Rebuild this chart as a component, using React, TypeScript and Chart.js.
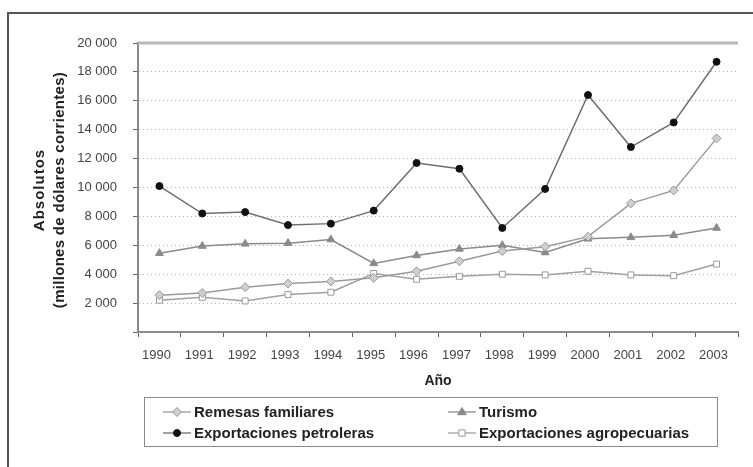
import React, { useEffect, useRef } from 'react';
import { Chart, registerables } from 'chart.js';

Chart.register(...registerables);

const years = ['1990', '1991', '1992', '1993', '1994', '1995', '1996', '1997', '1998', '1999', '2000', '2001', '2002', '2003'];
const remesas = [2550, 2700, 3100, 3350, 3500, 3750, 4200, 4900, 5600, 5900, 6600, 8900, 9800, 13400];
const turismo = [5450, 5950, 6100, 6150, 6400, 4750, 5300, 5750, 6000, 5500, 6450, 6550, 6700, 7200];
const petroleras = [10100, 8200, 8300, 7400, 7500, 8400, 11700, 11300, 7200, 9900, 16400, 12800, 14500, 18700];
const agro = [2200, 2400, 2150, 2600, 2750, 4050, 3650, 3850, 4000, 3950, 4200, 3950, 3900, 4700];

const yMin = 0;
const yMax = 20000;
const yStep = 2000;

const seriesNames = ['Remesas familiares', 'Turismo', 'Exportaciones petroleras', 'Exportaciones agropecuarias'];
const yTitle = ['Absolutos', '(millones de dólares corrientes)'];
const xTitle = 'Año';

const W = 753;
const H = 467;
const TICK_FONT = "'Liberation Sans', Arial, sans-serif";
const BOLD_FONT = "'Liberation Sans', Arial, sans-serif";

const styles = [
  { line: '#9a9a9a', style: 'rectRot', r: 4.5, bg: '#cfcfcf', bd: '#9a9a9a' },
  { line: '#8a8a8a', style: 'triangle', r: 4.5, bg: '#8a8a8a', bd: '#8a8a8a' },
  { line: '#6e6e6e', style: 'circle', r: 3.5, bg: '#111111', bd: '#111111' },
  { line: '#a0a0a0', style: 'rect', r: 4.2, bg: '#ffffff', bd: '#9a9a9a' },
];

function fmt(v: number): string {
  return String(v).replace(/\B(?=(\d{3})+(?!\d))/g, ' ');
}

function drawMarker(ctx: CanvasRenderingContext2D, style: string, x: number, y: number, r: number, bg: string, bd: string) {
  ctx.save();
  ctx.fillStyle = bg;
  ctx.strokeStyle = bd;
  ctx.lineWidth = 1;
  ctx.beginPath();
  if (style === 'circle') {
    ctx.arc(x, y, r, 0, Math.PI * 2);
  } else if (style === 'rectRot') {
    ctx.moveTo(x, y - r);
    ctx.lineTo(x + r, y);
    ctx.lineTo(x, y + r);
    ctx.lineTo(x - r, y);
    ctx.closePath();
  } else if (style === 'triangle') {
    ctx.moveTo(x, y - r);
    ctx.lineTo(x + r * 0.95, y + r * 0.6);
    ctx.lineTo(x - r * 0.95, y + r * 0.6);
    ctx.closePath();
  } else {
    const s = r * 0.75;
    ctx.rect(x - s, y - s, 2 * s, 2 * s);
  }
  ctx.fill();
  ctx.stroke();
  ctx.restore();
}

const decorPlugin = {
  id: 'decor',
  afterDraw(chart: any) {
    const ctx: any = chart.ctx;
    const area = chart.chartArea;
    const ys = chart.scales.y;
    ctx.save();
    // outer frame
    ctx.strokeStyle = '#555555';
    ctx.lineWidth = 2;
    ctx.beginPath();
    ctx.moveTo(W, 13);
    ctx.lineTo(8, 13);
    ctx.lineTo(8, H);
    ctx.stroke();
    // top border of plot at max
    const yTop = ys.getPixelForValue(yMax);
    ctx.strokeStyle = '#b8b8b8';
    ctx.lineWidth = 3;
    ctx.beginPath();
    ctx.moveTo(area.left, yTop);
    ctx.lineTo(area.right, yTop);
    ctx.stroke();

    // y title
    ctx.fillStyle = '#222222';
    ctx.font = `bold 15px ${BOLD_FONT}`;
    ctx.textAlign = 'center';
    ctx.textBaseline = 'middle';
    const cy = (area.top + area.bottom) / 2 + 2.5;
    ctx.save();
    ctx.translate(40, cy);
    ctx.rotate(-Math.PI / 2);
    ctx.letterSpacing = '1px';
    ctx.fillText(yTitle[0], 0, 0);
    ctx.restore();
    ctx.save();
    ctx.translate(60, cy);
    ctx.rotate(-Math.PI / 2);
    ctx.letterSpacing = '0.3px';
    ctx.fillText(yTitle[1], 0, 0);
    ctx.restore();

    // x title
    ctx.font = `bold 14px ${BOLD_FONT}`;
    ctx.fillText(xTitle, 438, 381);

    // legend box
    ctx.strokeStyle = '#8a8a8a';
    ctx.lineWidth = 1;
    ctx.strokeRect(144.5, 397.5, 573, 49);

    const cols = [
      { lx1: 163, lx2: 191, tx: 194 },
      { lx1: 448, lx2: 476, tx: 479 },
    ];
    const rows = [412, 433];
    const order = [0, 1, 2, 3];
    ctx.font = `bold 15px ${BOLD_FONT}`;
    ctx.textAlign = 'left';
    order.forEach((si, k) => {
      const c = cols[k % 2];
      const y = rows[Math.floor(k / 2)];
      const s = styles[si];
      ctx.strokeStyle = s.line;
      ctx.lineWidth = 1.3;
      ctx.beginPath();
      ctx.moveTo(c.lx1, y);
      ctx.lineTo(c.lx2, y);
      ctx.stroke();
      drawMarker(ctx, s.style, (c.lx1 + c.lx2) / 2, y, s.r, s.bg, s.bd);
      ctx.fillStyle = '#222222';
      ctx.fillText(seriesNames[si], c.tx, y + 1);
    });
    ctx.restore();
  },
};

export default function App() {
  const ref = useRef<HTMLCanvasElement | null>(null);
  useEffect(() => {
    if (!ref.current) return;
    const seriesData = [remesas, turismo, petroleras, agro];
    const chart = new Chart(ref.current, {
      type: 'line',
      data: {
        labels: years,
        datasets: seriesData.map((d, i) => ({
          label: seriesNames[i],
          data: d,
          borderColor: styles[i].line,
          borderWidth: 1.5,
          backgroundColor: styles[i].bg,
          pointBackgroundColor: styles[i].bg,
          pointBorderColor: styles[i].bd,
          pointBorderWidth: 1,
          pointStyle: styles[i].style as any,
          pointRadius: styles[i].r,
          tension: 0,
          fill: false,
        })),
      },
      options: {
        animation: false,
        responsive: false,
        devicePixelRatio: 1,
        events: [],
        layout: { padding: { left: 0, top: 43, right: 15, bottom: 0 } },
        plugins: {
          legend: { display: false },
          tooltip: { enabled: false },
          title: { display: false },
        },
        scales: {
          x: {
            type: 'category',
            offset: true,
            grid: {
              offset: true,
              drawOnChartArea: false,
              drawTicks: true,
              tickLength: 5,
              tickColor: '#666666',
              tickWidth: 1,
            },
            border: { display: true, color: '#8a8a8a', width: 2 },
            ticks: {
              color: '#444444',
              font: { family: TICK_FONT, size: 13 },
              padding: 11,
              labelOffset: -3,
              maxRotation: 0,
              autoSkip: false,
            },
            afterFit: (s: any) => {
              s.height = H - 332;
            },
          },
          y: {
            min: yMin,
            max: yMax,
            grid: {
              color: (c: any) => (c.tick && (c.tick.value === yMin || c.tick.value === yMax) ? 'rgba(0,0,0,0)' : '#b5b5b5'),
              lineWidth: 1,
              drawTicks: true,
              tickLength: 5,
              tickColor: '#666666',
              tickWidth: 1,
            },
            border: { display: true, color: '#8a8a8a', width: 2, dash: [1, 3] },
            ticks: {
              stepSize: yStep,
              color: '#444444',
              font: { family: TICK_FONT, size: 13 },
              padding: 16,
              callback: (v: any) => (Number(v) === 0 ? '' : fmt(Number(v))),
            },
            afterFit: (s: any) => {
              s.width = 138;
            },
          },
        },
      },
      plugins: [decorPlugin],
    });
    return () => chart.destroy();
  }, []);
  return (
    <div style={{ position: 'fixed', left: 0, top: 0, width: W, height: H, background: '#ffffff' }}>
      <canvas ref={ref} width={W} height={H} style={{ width: W, height: H, display: 'block' }} />
    </div>
  );
}
